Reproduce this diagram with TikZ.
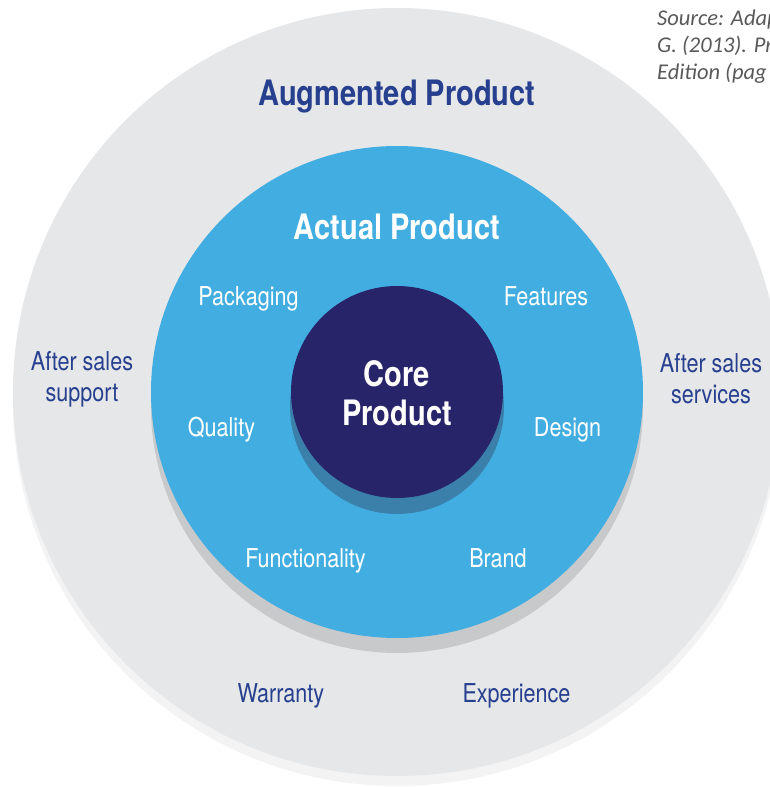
\documentclass[tikz,border=0pt]{standalone}
\usepackage{fontspec}
\setmainfont{TeX Gyre Heros}[FakeStretch=0.83]
\newfontfamily\notefont{Carlito}
\usetikzlibrary{positioning}
\definecolor{RingGrey}{HTML}{E6E7E8}
\definecolor{RingShade}{HTML}{F3F3F4}
\definecolor{ActualBlue}{HTML}{42ADE1}
\definecolor{ActualShade}{HTML}{C8C9CB}
\definecolor{CoreNavy}{HTML}{28246A}
\definecolor{CoreShade}{HTML}{3A80AB}
\definecolor{LabelNavy}{HTML}{263F8F}
\definecolor{NoteGrey}{HTML}{595959}
\tikzset{
  heading/.style={font=\fontsize{35}{39}\selectfont\bfseries,inner sep=0pt},
  actualitem/.style={font=\fontsize{26}{31}\selectfont,text=white,anchor=base,inner sep=0pt},
  augitem/.style={font=\fontsize{26}{31}\selectfont,text=LabelNavy,align=center,inner sep=0pt},
  srcnote/.style={font=\notefont\itshape\fontsize{22.5}{27}\selectfont,text=NoteGrey,align=left,anchor=north west,inner sep=0pt}
}

\begin{document}
\begin{tikzpicture}[x=1pt,y=1pt]
\useasboundingbox (-397,-395) rectangle (372,392);
% three rings, each over its own drop shade
\fill[RingShade] (0,-10) circle (384);
\fill[RingGrey] (0,0) circle (384);
\fill[ActualShade] (0,-15) circle (246);
\fill[ActualBlue] (0,0) circle (246);
\fill[CoreShade] (0,-15) circle (107);
\fill[CoreNavy] (0,0) circle (106);

\node[heading,text=LabelNavy,anchor=base] (augmented) at (0,286) {Augmented Product};
\node[heading,text=white,anchor=base] (actual) at (0,152) {Actual Product};
\node[heading,text=white,align=center] (core) at (0,-1) {Core\\Product};

% what the actual product is made of
\foreach \n/\x/\y/\t in {packaging/-148.5/86/Packaging,features/149/86/Features,
    quality/-175.5/-45/Quality,design/170.5/-45/Design,
    functionality/-91.5/-175/Functionality,brand/101/-175/Brand}
  \node[actualitem] (\n) at (\x,\y) {\t};

% augmented ring
\node[augitem] (support) at (-315,13) {After sales\\support};
\node[augitem] (services) at (314,13) {After sales\\services};
\node[augitem,anchor=base] (warranty) at (-116,-310) {Warranty};
\node[augitem,anchor=base] (experience) at (119.5,-310) {Experience};

% note runs off the right edge
\node[srcnote] (source) at (260,382) {Source: Adap\\G. (2013). Pr\\Edition (pag};
\end{tikzpicture}
\end{document}
